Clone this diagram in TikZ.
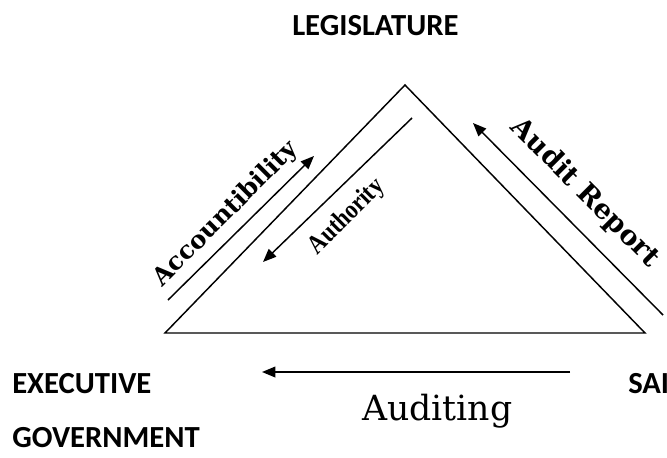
\documentclass[tikz,border=0pt]{standalone}
\usepackage{fontspec}
\usetikzlibrary{arrows.meta}
\newfontfamily\capsfont{Carlito}
\newfontfamily\labelfont{DejaVu Serif}
\newfontfamily\narrowfont[FakeStretch=0.85]{Liberation Serif}
\begin{document}
\begin{tikzpicture}[x=0.75pt,y=-0.75pt,
  edge/.style={line width=1.1pt},
  flow/.style={line width=1.1pt,-{Triangle[length=10pt,width=8pt]}},
  actor/.style={font=\capsfont\bfseries\fontsize{23}{27}\selectfont,inner sep=0pt,anchor=base west},
  duty/.style={font=\labelfont\bfseries\fontsize{18.5}{22}\selectfont,inner sep=0pt}]
\useasboundingbox (0,0) rectangle (667,457);

% the triangle
\coordinate (top) at (405,85);
\coordinate (bl) at (165,333);
\coordinate (br) at (645,333);
\draw[edge,line join=miter] (top) -- (bl) -- (br) -- cycle;

% arrow end points
\coordinate (acc0) at (168,300);  \coordinate (acc1) at (314,156);
\coordinate (aut0) at (412,118);  \coordinate (aut1) at (263,262);
\coordinate (rep0) at (663,315);  \coordinate (rep1) at (473,123);
\coordinate (aud0) at (570,372);  \coordinate (aud1) at (262,372);

\draw[flow] (acc0) -- (acc1);
\draw[flow] (aut0) -- (aut1);
\draw[flow] (rep0) -- (rep1);
\draw[flow] (aud0) -- (aud1);

% the three parties
\node[actor] (leg) at (292,35) {LEGISLATURE};
\node[actor] (exe) at (12,393) {EXECUTIVE};
\node[actor] (gov) at (12,447) {GOVERNMENT};
\node[actor] (sai) at (628,393) {SAI};

% relation labels
\node[duty,rotate=45] (accl) at (226,214) {Accountibility};
\node[font=\narrowfont\bfseries\fontsize{20}{24}\selectfont,inner sep=0pt,rotate=45] (autl) at (347,217) {Authority};
\node[duty,font=\labelfont\bfseries\fontsize{20.5}{25}\selectfont,rotate=-45] (repl) at (585,193) {Audit Report};
\node[font=\labelfont\fontsize{26}{31}\selectfont,inner sep=0pt,anchor=base west] (audl) at (362,420) {Auditing};
\end{tikzpicture}
\end{document}
